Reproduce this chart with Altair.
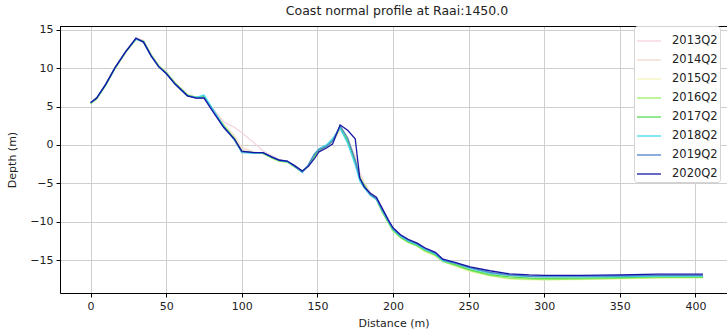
import altair as alt
import pandas as pd

TITLE = "Coast normal profile at Raai:1450.0"
YEARS = ["2013Q2", "2014Q2", "2015Q2", "2016Q2", "2017Q2", "2018Q2", "2019Q2", "2020Q2"]
COLORS = ["#f3d3e2", "#f2d5cc", "#f4f6bd", "#9aee66", "#55dd55", "#3fd8ee", "#4d84c4", "#1616a6"]
WIDTHS = [1.3, 1.3, 1.3, 1.6, 2.6, 1.8, 3.2, 2.4]
XTICKS = [0, 50, 100, 150, 200, 250, 300, 350, 400]
YTICKS = [-15, -10, -5, 0, 5, 10, 15]

D = [0, 4, 10, 16, 23, 30, 35, 40, 45, 50,
     56, 64, 70, 75, 82, 88, 95, 100, 108, 114,
     120, 125, 130, 135, 140, 144, 148, 151, 156, 160,
     165, 170, 175, 178, 181, 185, 189, 193, 197, 200,
     205, 210, 216, 221, 228, 233, 241, 251, 264, 277,
     290, 300, 325, 350, 375, 400, 405]

y2013 = [5.6, 6.2, 8.0, 10.1, 12.2, 14.0, 13.6, 11.8, 10.4, 9.5,
         8.1, 6.6, 6.2, 6.1, 4.5, 3.0, 2.3, 1.6, 0.3, -0.8,
         -1.4, -1.9, -2.1, -2.8, -3.6, -2.9, -1.6, -0.8, -0.3, 0.2,
         2.0, 0.8, -1.4, -3.6, -4.9, -6.2, -6.9, -8.5, -9.9, -10.9,
         -11.8, -12.4, -12.9, -13.5, -14.2, -15.0, -15.5, -16.1, -16.7, -17.0,
         -17.2, -17.2, -17.2, -17.1, -17.0, -17.0, -17.0]
y2014 = [5.5, 6.1, 7.9, 10.0, 12.1, 13.9, 13.6, 11.8, 10.4, 9.5,
         8.1, 6.6, 6.2, 6.2, 4.3, 2.7, 1.2, -0.4, -0.9, -1.1,
         -1.6, -2.0, -2.2, -2.8, -3.4, -2.8, -1.6, -0.8, -0.3, 0.3,
         2.0, 0.6, -1.6, -3.8, -5.0, -6.3, -7.0, -8.6, -10.0, -11.0,
         -11.9, -12.5, -13.0, -13.6, -14.3, -15.0, -15.5, -16.2, -16.8, -17.1,
         -17.3, -17.3, -17.3, -17.2, -17.1, -17.1, -17.1]
y2015 = [5.4, 6.0, 7.8, 9.9, 12.0, 13.7, 13.5, 11.8, 10.3, 9.4,
         8.0, 6.5, 6.2, 6.2, 4.2, 2.6, 1.0, -0.7, -1.0, -1.1,
         -1.7, -2.1, -2.3, -2.9, -3.5, -2.8, -1.5, -0.8, -0.3, 0.4,
         2.1, 0.7, -1.8, -4.0, -5.2, -6.4, -7.1, -8.8, -10.2, -11.2,
         -12.1, -12.7, -13.2, -13.9, -14.5, -15.2, -15.8, -16.5, -17.1, -17.5,
         -17.6, -17.6, -17.55, -17.45, -17.35, -17.3, -17.3]
y2016 = [5.4, 6.0, 7.8, 9.9, 12.0, 13.8, 13.5, 11.7, 10.3, 9.4,
         8.0, 6.5, 6.2, 6.3, 4.2, 2.5, 0.9, -0.8, -1.0, -1.1,
         -1.7, -2.1, -2.2, -2.9, -3.5, -2.7, -1.5, -0.7, -0.2, 0.5,
         2.2, 0.6, -2.0, -4.2, -5.3, -6.5, -7.1, -8.8, -10.2, -11.2,
         -12.1, -12.7, -13.2, -13.8, -14.4, -15.2, -15.7, -16.4, -17.0, -17.4,
         -17.5, -17.55, -17.5, -17.4, -17.3, -17.3, -17.3]
y2017 = [5.4, 6.0, 7.8, 10.0, 12.1, 13.8, 13.5, 11.7, 10.3, 9.4,
         8.0, 6.5, 6.2, 6.3, 4.2, 2.5, 0.8, -0.9, -1.0, -1.1,
         -1.7, -2.1, -2.2, -2.8, -3.4, -2.7, -1.4, -0.6, -0.1, 0.6,
         2.3, 0.5, -2.2, -4.4, -5.2, -6.5, -7.0, -8.7, -10.1, -11.1,
         -12.0, -12.6, -13.1, -13.7, -14.3, -15.1, -15.6, -16.3, -16.9, -17.2,
         -17.35, -17.4, -17.35, -17.3, -17.2, -17.2, -17.2]
y2018 = [5.5, 6.1, 7.9, 10.0, 12.1, 13.8, 13.4, 11.6, 10.2, 9.3,
         7.9, 6.4, 6.2, 6.5, 4.3, 2.4, 0.7, -1.0, -1.1, -1.0,
         -1.6, -2.0, -2.2, -2.8, -3.6, -2.6, -1.2, -0.5, 0.0, 0.8,
         2.2, 0.2, -2.6, -4.7, -5.6, -6.6, -7.1, -8.6, -10.0, -11.0,
         -11.9, -12.5, -13.0, -13.6, -14.2, -15.1, -15.4, -16.1, -16.7, -17.0,
         -17.15, -17.2, -17.2, -17.15, -17.1, -17.1, -17.1]
y2019 = [5.5, 6.1, 7.9, 10.0, 12.1, 13.9, 13.4, 11.6, 10.2, 9.3,
         7.9, 6.4, 6.1, 6.2, 4.1, 2.3, 0.7, -0.9, -1.0, -1.0,
         -1.6, -2.0, -2.1, -2.8, -3.5, -2.6, -1.2, -0.6, -0.2, 0.5,
         2.5, 0.9, -2.0, -4.3, -5.4, -6.5, -7.0, -8.5, -9.9, -10.9,
         -11.8, -12.4, -12.9, -13.5, -14.1, -15.0, -15.4, -16.0, -16.6, -16.95,
         -17.1, -17.1, -17.1, -17.05, -17.0, -17.0, -17.0]
y2020 = [5.5, 6.1, 7.9, 10.0, 12.1, 13.9, 13.4, 11.6, 10.2, 9.3,
         7.9, 6.4, 6.1, 6.1, 4.0, 2.3, 0.8, -0.8, -1.0, -1.0,
         -1.6, -2.0, -2.1, -2.7, -3.4, -2.8, -1.8, -0.9, -0.4, 0.1,
         2.6, 1.9, 0.8, -4.3, -5.5, -6.3, -6.8, -8.3, -9.8, -10.8,
         -11.7, -12.3, -12.8, -13.4, -14.0, -14.9, -15.3, -15.9, -16.4, -16.8,
         -16.95, -17.0, -17.0, -16.95, -16.85, -16.85, -16.85]

SERIES = [y2013, y2014, y2015, y2016, y2017, y2018, y2019, y2020]

rows = []
for k, (yr, vals) in enumerate(zip(YEARS, SERIES)):
    for d, v in zip(D, vals):
        rows.append({"distance": d, "depth": v, "year": yr, "k": k})
df = pd.DataFrame(rows)

W, H = 667, 267
FONT = "DejaVu Sans"

lines = alt.Chart(df).mark_line(clip=True).encode(
    x=alt.X("distance:Q",
            scale=alt.Scale(domain=[-20.25, 420.9], nice=False, zero=False),
            axis=alt.Axis(title="Distance (m)", values=XTICKS, format="d")),
    y=alt.Y("depth:Q",
            scale=alt.Scale(domain=[-19.3, 15.5], nice=False, zero=False),
            axis=alt.Axis(title="Depth (m)", values=YTICKS, format="d")),
    color=alt.Color("year:N", scale=alt.Scale(domain=YEARS, range=COLORS),
                    legend=alt.Legend(
                        title=None, orient="none", legendX=574, legendY=0,
                        fillColor="white", strokeColor="#d4d4d4", cornerRadius=3,
                        padding=2, symbolType="stroke", symbolSize=580,
                        symbolStrokeWidth=2, labelFont=FONT, labelFontSize=11.5,
                        labelColor="#222", labelOffset=10, rowPadding=0)),
    strokeWidth=alt.StrokeWidth("year:O", scale=alt.Scale(domain=YEARS, range=WIDTHS),
                                legend=None),
    order=alt.Order("k:Q"),
)

top = alt.Chart(pd.DataFrame({"a": [0]})).mark_rule(color="black", strokeWidth=1).encode(
    x=alt.value(0), x2=alt.value(W), y=alt.value(0.5))

chart = alt.layer(lines, top).properties(
    width=W, height=H,
    title=alt.TitleParams(TITLE, font=FONT, fontSize=12.5, fontWeight="normal",
                          anchor="middle", dx=3.5, offset=6, color="#222"),
    autosize=alt.AutoSizeParams(type="none"),
    padding={"left": 60, "top": 26, "right": 0, "bottom": 40},
).configure_view(stroke=None).configure_axis(
    grid=True, gridColor="#cfcfcf", gridWidth=1,
    domainColor="black", domainWidth=1, tickColor="black", tickSize=4,
    labelFont=FONT, labelFontSize=11, labelColor="#222", labelPadding=3,
    titleFont=FONT, titleFontSize=11, titleFontWeight="normal", titleColor="#222",
).configure_axisX(titlePadding=6).configure_axisY(titlePadding=12)

chart.save("out.html", embed_options={"renderer": "svg", "actions": False})
